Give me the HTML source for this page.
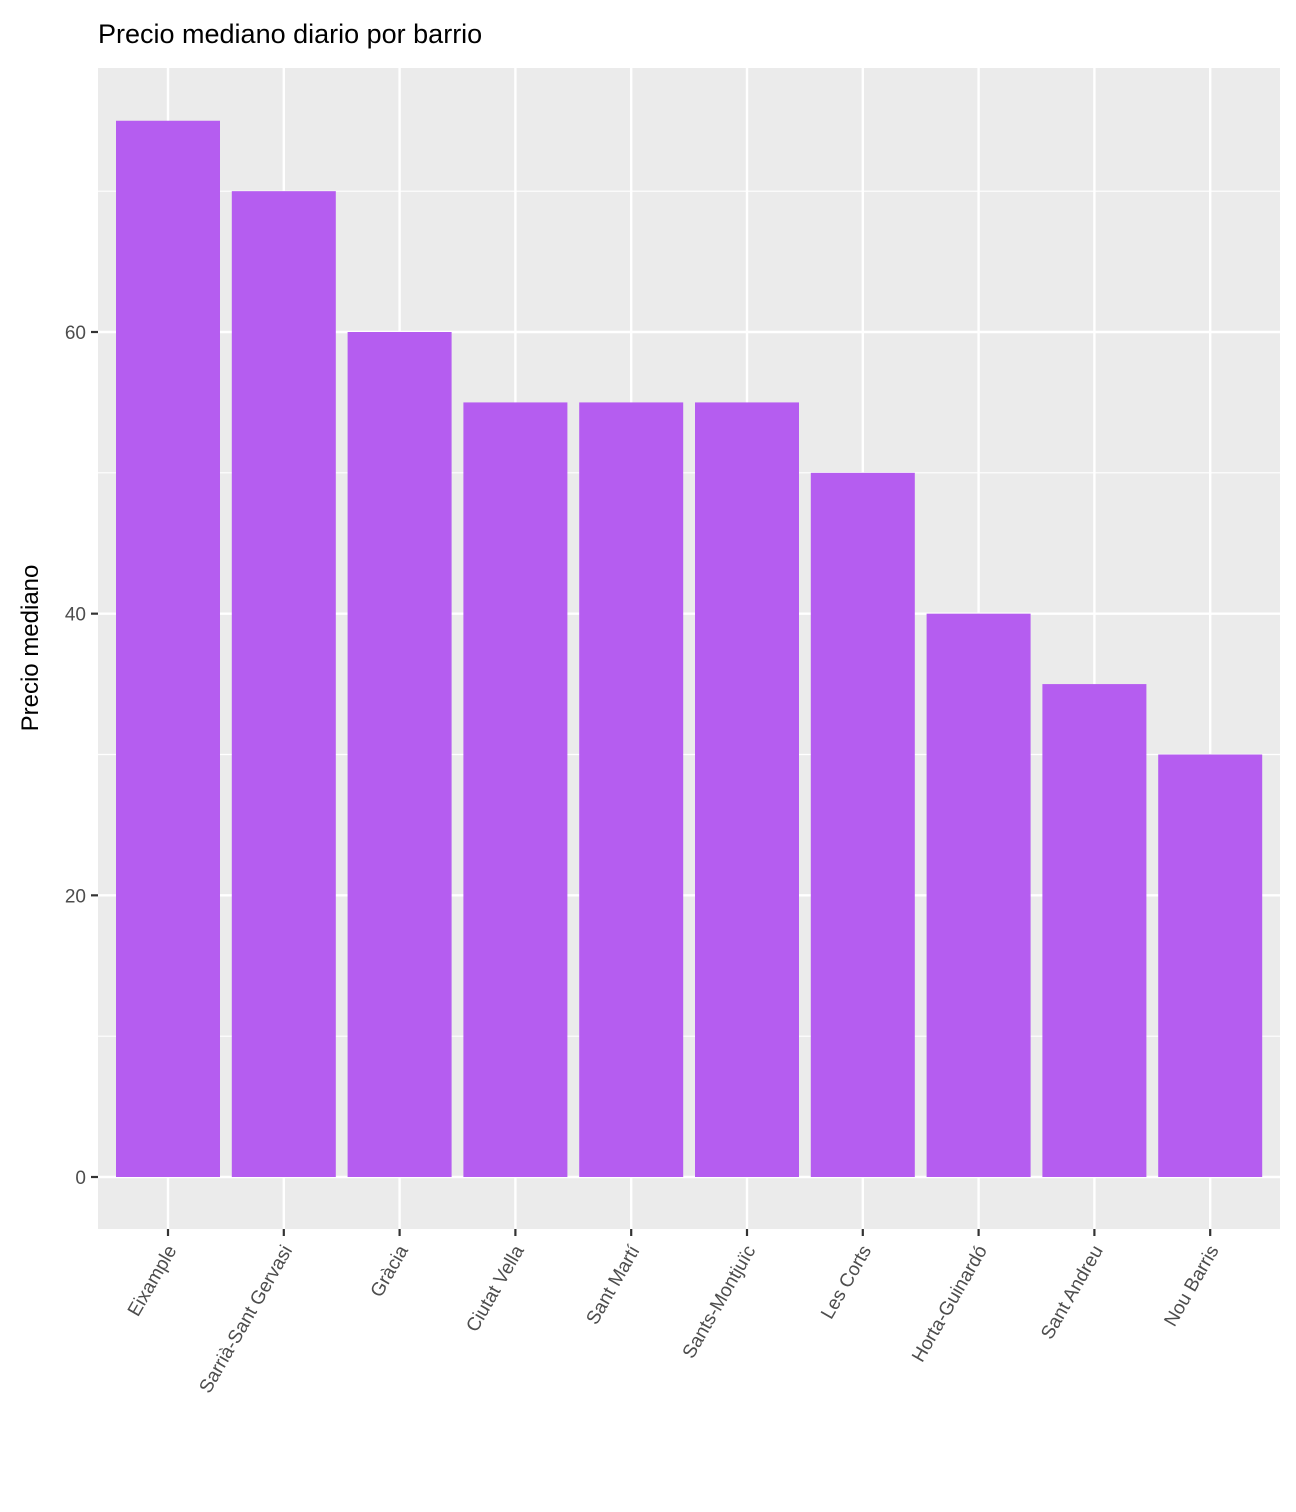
<!DOCTYPE html>
<html><head><meta charset="utf-8"><style>
body{margin:0;background:#fff;}
svg{display:block;font-family:"Liberation Sans",Arial,sans-serif;}
</style></head><body>
<svg id="chart" width="1296" height="1512" viewBox="0 0 1296 1512">
<text x="98" y="43" font-size="27" fill="#000">Precio mediano diario por barrio</text>
<rect x="98" y="68" width="1182" height="1161" fill="#ebebeb"/>
<g id="grid"></g><g id="bars"></g><g id="axes"></g>
<text transform="translate(38,648) rotate(-90)" text-anchor="middle" font-size="24" fill="#000">Precio mediano</text>
</svg>
<script>
const categories=["Eixample","Sarrià-Sant Gervasi","Gràcia","Ciutat Vella","Sant Martí","Sants-Montjuïc","Les Corts","Horta-Guinardó","Sant Andreu","Nou Barris"];
const values=[75,70,60,55,55,55,50,40,35,30];
const yTicks=[0,20,40,60];
const yMinor=[10,30,50,70];
const NS="http://www.w3.org/2000/svg";
const y=v=>1177-v*(845/60);
const x=i=>168+i*115.8;
function mk(t,a,p){const e=document.createElementNS(NS,t);for(const k in a)e.setAttribute(k,a[k]);p.appendChild(e);return e;}
const grid=document.getElementById('grid'),bars=document.getElementById('bars'),axes=document.getElementById('axes');
yMinor.forEach(v=>{const l=mk('line',{x1:98,x2:1280,y1:y(v),y2:y(v),stroke:'#fff','stroke-width':1.2},grid);

});
yTicks.forEach(v=>{const l=mk('line',{x1:98,x2:1280,y1:y(v),y2:y(v),stroke:'#fff','stroke-width':2.4},grid);


const t=mk('line',{x1:91,x2:98,y1:y(v),y2:y(v),stroke:'#333','stroke-width':2.2},axes);


const tx=mk('text',{x:86,y:y(v)+7,'text-anchor':'end','font-size':19,fill:'#4d4d4d'},axes);tx.textContent=v;

});
categories.forEach((c,i)=>{const cx=x(i);
const g=mk('line',{x1:cx,x2:cx,y1:68,y2:1229,stroke:'#fff','stroke-width':2.4},grid);


const b=mk('rect',{x:cx-52,y:y(values[i]),width:104,height:y(0)-y(values[i]),fill:'#b55df0'},bars);


const t=mk('line',{x1:cx,x2:cx,y1:1229,y2:1236,stroke:'#333','stroke-width':2.2},axes);


const lx=cx+9,ly=1250;
const tx=mk('text',{x:lx,y:ly,'text-anchor':'end','font-size':19,fill:'#4d4d4d',transform:`rotate(-60 ${lx} ${ly})`},axes);tx.textContent=c;

});
</script>
</body></html>
